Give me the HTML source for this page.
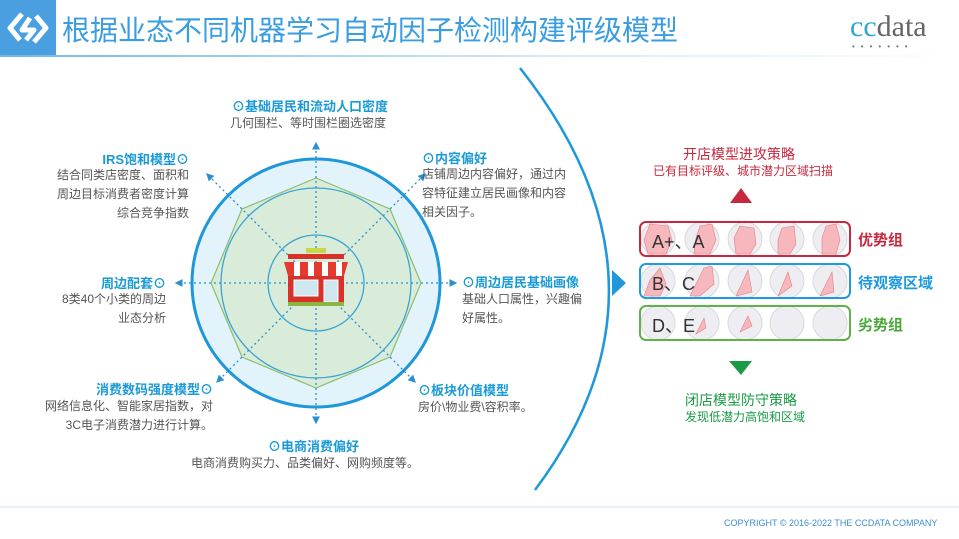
<!DOCTYPE html>
<html><head><meta charset="utf-8"><style>
body{margin:0;width:959px;height:539px;background:#fff;position:relative;overflow:hidden;font-family:"Liberation Sans","Noto Sans CJK SC",sans-serif}
.a{position:absolute;white-space:nowrap}
.t{color:#1a9ad6;font-size:13px;font-weight:bold}
.d{color:#555;font-size:12px;line-height:19px}
.r{text-align:right}
</style></head><body>
<div class="a" style="left:0;top:0;width:56px;height:56px;background:#4a9fe0"></div>
<svg class="a" style="left:0;top:0" width="56" height="56"><g fill="none" stroke="#fff" stroke-width="5" stroke-linejoin="round"><path d="M22 14 L10 28 L20 40 M34 42 L46 28 L36 16"/><path d="M30 18 L22 30 L34 30 L26 40"/></g></svg>
<div class="a" style="left:62px;top:9px;font-size:28px;color:#3a9de0">根据业态不同机器学习自动因子检测构建评级模型</div>
<div class="a" style="left:850px;top:10px;font-size:30px;font-family:'Liberation Serif',serif;color:#666"><span style="color:#2aa7d8">cc</span>data</div>
<div class="a" style="left:852px;top:42px;font-size:8px;color:#777;letter-spacing:6px">•••••••</div>
<div class="a" style="left:0;top:55px;width:959px;height:2px;background:linear-gradient(90deg,#6fb8e8,#d8ecf8 60%,#fff)"></div>

<svg class="a" style="left:0;top:0" width="959" height="539">
<defs><marker id="m" markerWidth="6" markerHeight="6" refX="5" refY="3" orient="auto"><path d="M0,0 L6,3 L0,6z" fill="#2a8fcf"/></marker></defs>
<circle cx="316" cy="283" r="124" fill="#e3f3fb" stroke="#1f97db" stroke-width="3"/>
<polygon points="316,178 390,209 421,283 390,357 316,388 242,357 211,283 242,209" fill="#d8ecd9" stroke="#8cbd6e" stroke-width="1.2"/>
<circle cx="316" cy="283" r="95" fill="none" stroke="#3aa3d2" stroke-width="1.3"/>
<circle cx="316" cy="283" r="48" fill="none" stroke="#3aa3d2" stroke-width="1.3"/>
<g stroke="#2a8fcf" stroke-width="1.3" stroke-dasharray="2,3" marker-end="url(#m)">
<line x1="316" y1="283" x2="316" y2="143"/><line x1="316" y1="283" x2="316" y2="423"/>
<line x1="316" y1="283" x2="176" y2="283"/><line x1="316" y1="283" x2="456" y2="283"/>
<line x1="316" y1="283" x2="207" y2="174"/><line x1="316" y1="283" x2="425" y2="174"/>
<line x1="316" y1="283" x2="217" y2="382"/><line x1="316" y1="283" x2="415" y2="382"/>
</g>
<rect x="306" y="248" width="20" height="5" fill="#c8d84a"/>
<rect x="288" y="254" width="56" height="5" fill="#d7322a"/>
<path d="M284 262 L348 262 L344 276 L288 276z" fill="#e53b2f"/>
<g fill="#fff"><rect x="294" y="262" width="6" height="14"/><rect x="308" y="262" width="6" height="14"/><rect x="322" y="262" width="6" height="14"/><rect x="336" y="262" width="6" height="14"/></g>
<rect x="288" y="276" width="56" height="27" fill="#d7322a"/>
<rect x="294" y="280" width="24" height="16" fill="#cfe7ee" stroke="#fff"/>
<rect x="324" y="280" width="14" height="22" fill="#cfe7ee" stroke="#fff"/>
<rect x="288" y="302" width="56" height="4" fill="#8bb640"/>
<path d="M520 68 Q690 283 535 490" fill="none" stroke="#1f97db" stroke-width="2.5"/>
<path d="M612 270 L626 283 L612 296 z" fill="#1f97db"/>
<path d="M730 203 L741 188 L752 203z" fill="#c8283e"/>
<path d="M729 361 L752 361 L741 375z" fill="#1a9a44"/>
<g fill="#eeeef2" stroke="#d8d8dc">
<circle cx="658" cy="239" r="17"/><circle cx="702" cy="239" r="17"/><circle cx="745" cy="239" r="17"/><circle cx="787" cy="239" r="17"/><circle cx="830" cy="239" r="17"/>
<circle cx="658" cy="281" r="17"/><circle cx="702" cy="281" r="17"/><circle cx="745" cy="281" r="17"/><circle cx="787" cy="281" r="17"/><circle cx="830" cy="281" r="17"/>
<circle cx="658" cy="323" r="17"/><circle cx="702" cy="323" r="17"/><circle cx="745" cy="323" r="17"/><circle cx="787" cy="323" r="17"/><circle cx="830" cy="323" r="17"/>
</g>
<g fill="#f6b8bd" stroke="#e47f88" stroke-width=".6">
<polygon points="650,224 668,226 672,240 666,254 648,254 644,240"/>
<polygon points="700,226 712,224 716,240 710,254 694,254 696,238"/>
<polygon points="740,226 754,228 756,244 750,254 736,254 734,238"/>
<polygon points="782,228 794,226 796,244 790,254 778,254 778,240"/>
<polygon points="826,226 836,224 840,240 836,254 822,254 822,238"/>
<polygon points="660,268 666,284 660,296 644,296 650,280"/>
<polygon points="704,268 712,266 714,284 700,296 690,296"/>
<polygon points="748,270 752,292 736,296"/>
<polygon points="788,272 792,286 778,296"/>
<polygon points="832,272 834,292 820,296"/>
<polygon points="704,318 706,328 696,334"/><polygon points="748,316 752,326 740,332"/>
</g>
<rect x="640" y="222" width="210" height="34" rx="6" fill="none" stroke="#c8283e" stroke-width="2"/>
<rect x="640" y="264" width="210" height="34" rx="6" fill="none" stroke="#1f9ae0" stroke-width="2"/>
<rect x="640" y="306" width="210" height="34" rx="6" fill="none" stroke="#5db34a" stroke-width="2"/>
<line x1="0" y1="507" x2="959" y2="507" stroke="#cfe3f2"/>
</svg>

<div class="a" style="left:652px;top:228px;font-size:18px;color:#333">A+、A</div>
<div class="a" style="left:652px;top:270px;font-size:18px;color:#333">B、C</div>
<div class="a" style="left:652px;top:312px;font-size:18px;color:#333">D、E</div>
<div class="a" style="left:858px;top:229px;font-size:15px;font-weight:bold;color:#c8283e">优势组</div>
<div class="a" style="left:858px;top:272px;font-size:15px;font-weight:bold;color:#1f9ae0">待观察区域</div>
<div class="a" style="left:858px;top:314px;font-size:15px;font-weight:bold;color:#4aa83a">劣势组</div>
<div class="a" style="left:683px;top:144px;font-size:14px;color:#c8283e">开店模型进攻策略</div>
<div class="a" style="left:653px;top:162px;font-size:12px;color:#c8283e">已有目标评级、城市潜力区域扫描</div>
<div class="a" style="left:685px;top:390px;font-size:14px;color:#1a9a44">闭店模型防守策略</div>
<div class="a" style="left:685px;top:408px;font-size:12px;color:#1a9a44">发现低潜力高饱和区域</div>

<div class="a t" style="left:232px;top:96px">⊙基础居民和流动人口密度</div>
<div class="a d" style="left:230px;top:114px">几何围栏、等时围栏圈选密度</div>
<div class="a t" style="left:422px;top:148px">⊙内容偏好</div>
<div class="a d" style="left:422px;top:165px">店铺周边内容偏好，通过内<br>容特征建立居民画像和内容<br>相关因子。</div>
<div class="a t" style="left:462px;top:272px">⊙周边居民基础画像</div>
<div class="a d" style="left:462px;top:290px">基础人口属性，兴趣偏<br>好属性。</div>
<div class="a t" style="left:418px;top:380px">⊙板块价值模型</div>
<div class="a d" style="left:418px;top:398px">房价\物业费\容积率。</div>
<div class="a t" style="left:268px;top:436px">⊙电商消费偏好</div>
<div class="a d" style="left:191px;top:454px">电商消费购买力、品类偏好、网购频度等。</div>
<div class="a t r" style="right:770px;top:149px">IRS饱和模型⊙</div>
<div class="a d r" style="right:770px;top:166px">结合同类店密度、面积和<br>周边目标消费者密度计算<br>综合竞争指数</div>
<div class="a t r" style="right:793px;top:273px">周边配套⊙</div>
<div class="a d r" style="right:793px;top:290px">8类40个小类的周边<br>业态分析</div>
<div class="a t r" style="right:746px;top:379px">消费数码强度模型⊙</div>
<div class="a d r" style="right:746px;top:397px">网络信息化、智能家居指数，对<br>3C电子消费潜力进行计算。</div>
<div class="a" style="left:724px;top:518px;font-size:9px;color:#3a8fd0">COPYRIGHT © 2016-2022 THE CCDATA COMPANY</div>
</body></html>
